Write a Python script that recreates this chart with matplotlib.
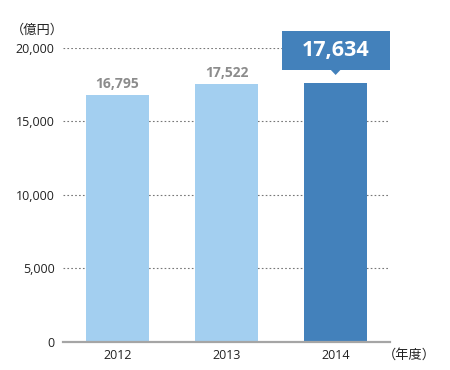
import matplotlib
matplotlib.use("Agg")
import matplotlib.pyplot as plt
from matplotlib.patches import Rectangle, Polygon

years = ["2012", "2013", "2014"]
values = [16795, 17522, 17634]
yticks = [0, 5000, 10000, 15000, 20000]

plt.rcParams["font.family"] = ["Open Sans", "Noto Sans CJK JP", "DejaVu Sans"]

LIGHT = "#a3cff0"
DARK = "#4381bb"
GRAY = "#8c8c8c"
TXT = "#222222"

fig = plt.figure(figsize=(4.5, 3.7), dpi=100)
ax = fig.add_axes([0.14, 0.0757, 0.727, 0.7946])

x = list(range(len(years)))
colors = [LIGHT] * (len(years) - 1) + [DARK]
ax.bar(x, values, width=0.58, color=colors, zorder=2)

ax.set_xlim(-0.5, len(years) - 0.5)
ax.set_ylim(0, 20000)
ax.set_yticks(yticks)
ax.set_yticklabels([f"{v:,}" for v in yticks], fontsize=9, color=TXT)
ax.set_xticks(x)
ax.set_xticklabels(years, fontsize=9, color=TXT)
ax.tick_params(length=0)
ax.tick_params(axis="x", pad=5)
ax.tick_params(axis="y", pad=6)

for s in ["top", "right", "left"]:
    ax.spines[s].set_visible(False)
ax.spines["bottom"].set_color("#a5a5a5")
ax.spines["bottom"].set_linewidth(1.6)
ax.spines["bottom"].set_zorder(3)

for v in yticks[1:]:
    ax.axhline(v, color="#777777", linewidth=0.8, linestyle=(0, (1.5, 2)), zorder=1)

# value labels for earlier years
for i, v in enumerate(values[:-1]):
    ax.text(i, v + 300, f"{v:,}", ha="center", va="bottom", fontsize=10,
            fontweight="bold", color=GRAY)

# callout for the latest year
i, v = len(values) - 1, values[-1]
box_bottom = v + 870
box_top = v + 3520
ax.add_patch(Rectangle((i - 0.49, box_bottom), 0.99, box_top - box_bottom,
                       facecolor=DARK, edgecolor="none", clip_on=False, zorder=4))
ax.add_patch(Polygon([[i - 0.045, box_bottom + 10], [i + 0.045, box_bottom + 10],
                      [i, v + 530]], closed=True, facecolor=DARK,
                     edgecolor="none", clip_on=False, zorder=4))
ax.text(i, (box_bottom + box_top) / 2, f"{v:,}", ha="center", va="center",
        fontsize=15.5, fontweight="bold", color="white", zorder=5)

fig.text(0.025, 0.918, "（億円）", fontsize=9.5, color=TXT, ha="left", va="center",
         family=["Noto Sans CJK JP"])
fig.text(0.968, 0.04, "（年度）", fontsize=9.5, color=TXT, ha="right", va="center",
         family=["Noto Sans CJK JP"])

fig.savefig("out.png", dpi=100)
